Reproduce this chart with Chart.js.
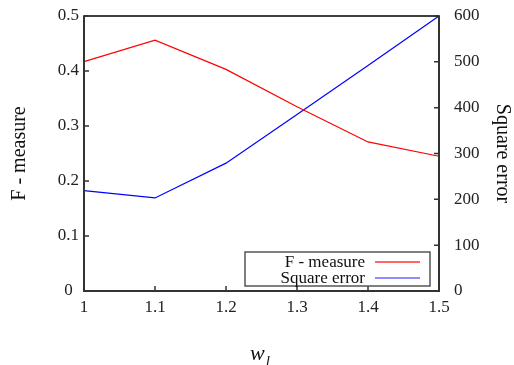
<!DOCTYPE html>
<html>
<head>
<meta charset="utf-8">
<script src="https://cdn.jsdelivr.net/npm/chart.js@4.4.1/dist/chart.umd.min.js"></script>
<style>
  html, body { margin: 0; padding: 0; background: #fff; }
  #wrap { width: 514px; height: 365px; }
</style>
</head>
<body>
<div id="wrap"><canvas id="c" width="514" height="365"></canvas></div>
<script>
// Weight w_l on the x axis
const weights = [1.0, 1.1, 1.2, 1.3, 1.4, 1.5];
// F - measure (left axis)
const fMeasure = [0.417, 0.456, 0.403, 0.335, 0.271, 0.245];
// Square error (right axis)
const squareError = [219, 203, 279, 385, 492, 600];

const xTicks = [1, 1.1, 1.2, 1.3, 1.4, 1.5];
const leftTicks = [0, 0.1, 0.2, 0.3, 0.4, 0.5];
const rightTicks = [0, 100, 200, 300, 400, 500, 600];

const SERIF = "'Liberation Serif', 'DejaVu Serif', serif";
const AXIS_DARK = '#333333';

function pairs(xs, ys) {
  return xs.map((x, i) => ({ x: x, y: ys[i] }));
}

// Frame, inward tick marks, x title with subscript and the boxed legend
const decorations = {
  id: 'decorations',
  afterDraw(chart) {
    const ctx = chart.ctx;
    const a = chart.chartArea;
    const sx = chart.scales.x, sl = chart.scales.yL, sr = chart.scales.yR;
    ctx.save();

    // frame
    ctx.strokeStyle = '#000';
    ctx.lineWidth = 1.5;
    ctx.beginPath();
    ctx.moveTo(a.left, a.top);
    ctx.lineTo(a.right, a.top);
    ctx.stroke();
    ctx.strokeStyle = AXIS_DARK;
    ctx.lineWidth = 2;
    ctx.beginPath();
    ctx.moveTo(a.left, a.top - 0.75);
    ctx.lineTo(a.left, a.bottom);
    ctx.lineTo(a.right, a.bottom);
    ctx.lineTo(a.right, a.top - 0.75);
    ctx.stroke();

    // inward ticks
    const len = 5;
    ctx.lineWidth = 1.5;
    ctx.beginPath();
    sx.ticks.forEach(t => {
      const px = sx.getPixelForValue(t.value);
      ctx.moveTo(px, a.bottom);
      ctx.lineTo(px, a.bottom - len);
    });
    sl.ticks.forEach(t => {
      const py = sl.getPixelForValue(t.value);
      ctx.moveTo(a.left, py);
      ctx.lineTo(a.left + len, py);
    });
    sr.ticks.forEach(t => {
      const py = sr.getPixelForValue(t.value);
      ctx.moveTo(a.right, py);
      ctx.lineTo(a.right - len, py);
    });
    ctx.stroke();

    // x axis title: w with subscript l
    const cx = (a.left + a.right) / 2;
    ctx.fillStyle = '#111';
    ctx.textBaseline = 'alphabetic';
    ctx.font = 'italic 22px ' + SERIF;
    const wW = ctx.measureText('w').width;
    ctx.font = 'italic 15px ' + SERIF;
    const lW = ctx.measureText('l').width;
    const startX = cx - (wW + lW) / 2 - 2;
    ctx.font = 'italic 22px ' + SERIF;
    ctx.textAlign = 'left';
    ctx.fillText('w', startX, 360);
    ctx.font = 'italic 15px ' + SERIF;
    ctx.fillText('l', startX + wW + 1, 366);

    // legend box
    const lx = 245, ly = 252, lw = 185, lh = 34;
    ctx.strokeStyle = '#555';
    ctx.lineWidth = 1.5;
    ctx.fillStyle = '#fff';
    ctx.fillRect(lx, ly, lw, lh);
    ctx.strokeRect(lx, ly, lw, lh);
    ctx.font = '17px ' + SERIF;
    ctx.textAlign = 'right';
    ctx.textBaseline = 'middle';
    const sampleColors = ['#ff3333', '#6666ff'];
    chart.data.datasets.forEach((ds, i) => {
      const ry = 262 + i * 16;
      ctx.fillStyle = '#111';
      ctx.fillText(ds.label, 365, ry + 1);
      ctx.strokeStyle = sampleColors[i];
      ctx.lineWidth = 1.5;
      ctx.beginPath();
      ctx.moveTo(375, ry);
      ctx.lineTo(420, ry);
      ctx.stroke();
    });
    ctx.restore();
  }
};

new Chart(document.getElementById('c'), {
  type: 'line',
  data: {
    datasets: [
      {
        label: 'F - measure',
        data: pairs(weights, fMeasure),
        yAxisID: 'yL',
        borderColor: '#ff0000',
        borderWidth: 1.2,
        pointRadius: 0,
        tension: 0,
        fill: false,
        clip: false
      },
      {
        label: 'Square error',
        data: pairs(weights, squareError),
        yAxisID: 'yR',
        borderColor: '#0000ff',
        borderWidth: 1.2,
        pointRadius: 0,
        tension: 0,
        fill: false,
        clip: false
      }
    ]
  },
  options: {
    responsive: false,
    animation: false,
    devicePixelRatio: 1,
    layout: { padding: { top: 16, left: 0, right: 0, bottom: 0 } },
    plugins: {
      legend: { display: false },
      tooltip: { enabled: false }
    },
    scales: {
      x: {
        type: 'linear',
        position: 'bottom',
        min: 1,
        max: 1.5,
        afterBuildTicks(scale) { scale.ticks = xTicks.map(v => ({ value: v })); },
        afterFit(scale) { scale.height = 74; scale.paddingLeft = 0; scale.paddingRight = 0; },
        grid: { display: false, drawTicks: false },
        border: { display: false },
        ticks: {
          padding: 6,
          color: '#222',
          font: { family: SERIF, size: 17 },
          maxRotation: 0,
          callback: v => String(Math.round(v * 10) / 10)
        }
      },
      yL: {
        type: 'linear',
        position: 'left',
        min: 0,
        max: 0.5,
        afterBuildTicks(scale) { scale.ticks = leftTicks.map(v => ({ value: v })); },
        afterFit(scale) { scale.width = 84; scale.paddingTop = 0; scale.paddingBottom = 0; },
        grid: { display: false, drawTicks: false },
        border: { display: false },
        title: {
          display: true,
          text: 'F - measure',
          color: '#111',
          font: { family: SERIF, size: 20 },
          padding: { top: 8, bottom: 0 }
        },
        ticks: {
          padding: 5,
          crossAlign: 'center',
          color: '#222',
          font: { family: SERIF, size: 17 },
          callback: v => String(Math.round(v * 10) / 10)
        }
      },
      yR: {
        type: 'linear',
        position: 'right',
        min: 0,
        max: 600,
        afterBuildTicks(scale) { scale.ticks = rightTicks.map(v => ({ value: v })); },
        afterFit(scale) { scale.width = 75; scale.paddingTop = 0; scale.paddingBottom = 0; },
        grid: { display: false, drawTicks: false },
        border: { display: false },
        title: {
          display: true,
          text: 'Square error',
          color: '#111',
          font: { family: SERIF, size: 20 },
          padding: { top: 0, bottom: 0 }
        },
        ticks: {
          padding: 15,
          color: '#222',
          font: { family: SERIF, size: 17 },
          callback: v => String(v)
        }
      }
    }
  },
  plugins: [decorations]
});
</script>
</body>
</html>
